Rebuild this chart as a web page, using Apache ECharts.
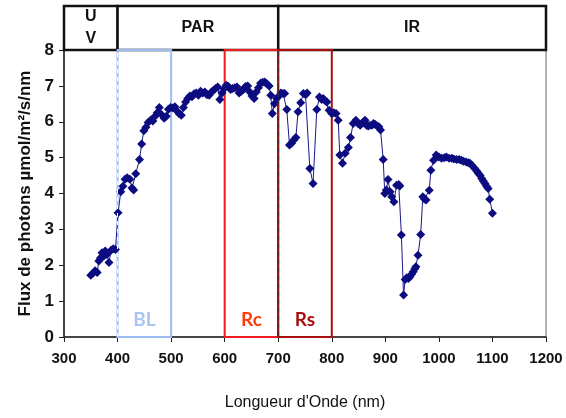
<!DOCTYPE html>
<html>
<head>
<meta charset="utf-8">
<script src="https://cdn.jsdelivr.net/npm/echarts@6/dist/echarts.min.js"></script>
<style>
  html, body { margin: 0; padding: 0; background: #fff; }
  #chart { width: 566px; height: 418px; }
</style>
</head>
<body>
<div id="chart"></div>
<script>
// longueur d'onde (nm) et flux (umol/m2/s/nm)
var wavelength = [350, 354, 358, 362, 365, 368, 371, 374, 377, 380, 384, 388, 392, 396,
  401, 406, 410, 414, 418, 423, 427, 430, 434, 441, 445, 449, 453, 457, 462, 466, 470, 474,
  478, 482, 487, 491, 495, 499, 503, 507, 511, 515, 519, 523, 527, 531, 535, 539, 543, 547,
  551, 555, 559, 563, 567, 571, 575, 579, 583, 587, 591, 595, 599, 603, 607, 611, 615, 619,
  623, 627, 631, 635, 639, 643, 647, 651, 655, 659, 663, 667, 671, 675, 679, 683, 686, 689,
  693, 697, 700, 705, 709, 712, 716, 721, 725, 729, 733, 737, 742, 747, 751, 754, 759, 765,
  772, 777, 781, 784, 788, 791, 795, 800, 804, 808, 812, 815, 820, 825, 831, 835, 840, 845,
  849, 853, 856, 859, 862, 865, 868, 871, 875, 878, 881, 885, 888, 891, 896, 899, 902, 905,
  909, 912, 916, 921, 925, 927, 930, 934, 937, 940, 943, 946, 949, 952, 955, 957, 961, 966,
  970, 973, 976, 982, 985, 990, 995, 1000, 1005, 1010, 1014, 1019, 1024, 1028, 1033, 1038,
  1042, 1046, 1051, 1055, 1058, 1062, 1067, 1071, 1074, 1077, 1080, 1083, 1086, 1089, 1092,
  1095, 1100];
var flux = [1.72, 1.78, 1.85, 1.80, 2.12, 2.20, 2.35, 2.25, 2.40, 2.30, 2.08, 2.42, 2.46, 2.44,
  3.46, 4.05, 4.20, 4.40, 4.44, 4.40, 4.15, 4.10, 4.55, 4.95, 5.38, 5.75, 5.85, 5.98, 6.05, 6.02, 6.15, 6.25,
  6.40, 6.20, 6.10, 6.15, 6.35, 6.40, 6.38, 6.42, 6.30, 6.22, 6.18, 6.40, 6.55, 6.65, 6.72, 6.70, 6.78, 6.80,
  6.74, 6.85, 6.80, 6.83, 6.75, 6.74, 6.82, 6.88, 6.93, 6.97, 6.62, 6.80, 6.92, 7.02, 6.98, 6.90, 6.93, 6.95,
  6.97, 6.80, 6.85, 6.90, 6.98, 7.00, 6.83, 6.72, 6.65, 6.83, 6.95, 7.07, 7.10, 7.11, 7.05, 7.00, 6.74, 6.23,
  6.50, 6.65, 6.70, 6.80, 6.79, 6.79, 6.34, 5.35, 5.40, 5.49, 5.56, 6.28, 6.53, 6.79, 6.75, 6.80, 4.70, 4.28,
  6.34, 6.69, 6.62, 6.65, 6.58, 6.55, 6.32, 6.23, 6.25, 6.23, 6.04, 5.07, 4.84, 5.12, 5.28, 5.56, 5.95, 6.04,
  5.95, 5.90, 5.95, 5.99, 6.04, 5.90, 5.88, 5.90, 5.90, 5.95, 5.92, 5.88, 5.86, 5.77, 4.95, 4.00, 4.10, 4.39,
  4.05, 3.91, 3.77, 4.23, 4.25, 4.21, 2.84, 1.17, 1.60, 1.65, 1.63, 1.68, 1.75, 1.82, 1.90, 1.96, 2.28, 2.86,
  3.91, 3.85, 3.82, 4.09, 4.65, 4.93, 5.07, 5.02, 4.98, 5.00, 5.02, 4.98, 4.98, 4.96, 4.95, 4.95,
  4.93, 4.90, 4.88, 4.86, 4.84, 4.78, 4.70, 4.62, 4.56, 4.50, 4.42, 4.35, 4.28, 4.20, 4.14,
  3.84, 3.45];

// bandes du bandeau du haut
var bandNames = ['U\nV', 'PAR', 'IR'];
var bandLimits = [[300, 400], [400, 700], [700, 1200]];

// zones BL / Rc / Rs
var zoneNames = ['BL', 'Rc', 'Rs'];
var zoneLimits = [[400, 500], [600, 700], [700, 800]];
var zoneColors = ['#9dbdf0', '#ee1c1c', '#a81010'];
var zoneTextColors = ['#a8c4f2', '#ff3a10', '#a81010'];

var points = [];
for (var i = 0; i < wavelength.length; i++) {
  points.push([wavelength[i], flux[i]]);
}

var bandAreas = [];
for (var b = 0; b < bandNames.length; b++) {
  bandAreas.push([
    { xAxis: bandLimits[b][0], name: bandNames[b] },
    { xAxis: bandLimits[b][1] }
  ]);
}

var zoneAreas = [];
for (var z = 0; z < zoneNames.length; z++) {
  zoneAreas.push([
    {
      xAxis: zoneLimits[z][0], yAxis: 0, name: zoneNames[z],
      itemStyle: { borderColor: zoneColors[z] },
      label: { color: zoneTextColors[z] }
    },
    { xAxis: zoneLimits[z][1], yAxis: 8 }
  ]);
}

var chart = echarts.init(document.getElementById('chart'));
var option = {
  backgroundColor: '#fff',
  animation: false,
  grid: [
    { left: 64, right: 20, top: 50, bottom: 81, show: true, borderColor: '#666', borderWidth: 1 },
    { left: 64, right: 20, top: 6, height: 44 }
  ],
  xAxis: [
    {
      type: 'value', min: 300, max: 1200, interval: 100,
      name: "Longueur d'Onde (nm)", nameLocation: 'middle', nameGap: 58,
      nameTextStyle: { fontFamily: 'Liberation Sans', fontSize: 16, color: '#111' },
      axisLine: { lineStyle: { color: '#222', width: 1.5 } },
      axisTick: { show: true, length: 5, lineStyle: { color: '#222' } },
      axisLabel: {
        fontFamily: 'Liberation Sans', fontSize: 15, fontWeight: 'bold', color: '#111', margin: 14,
        formatter: function (v) { return String(v); }
      },
      splitLine: { show: false }
    },
    { type: 'value', gridIndex: 1, min: 300, max: 1200, show: false }
  ],
  yAxis: [
    {
      type: 'value', min: 0, max: 8, interval: 1,
      name: 'Flux de photons µmol/m²/s/nm', nameLocation: 'middle', nameGap: 26,
      nameTextStyle: { fontFamily: 'Liberation Sans', fontSize: 17, fontWeight: 'bold', color: '#111' },
      axisLine: { show: true, lineStyle: { color: '#222', width: 1.5 } },
      axisTick: { show: true, length: 5, lineStyle: { color: '#222' } },
      axisLabel: { fontFamily: 'Liberation Sans', fontSize: 17, fontWeight: 'bold', color: '#111', margin: 10 },
      splitLine: { show: false }
    },
    { type: 'value', gridIndex: 1, min: 0, max: 1, show: false }
  ],
  series: [
    {
      // bandeau UV / PAR / IR
      type: 'line', xAxisIndex: 1, yAxisIndex: 1, data: [], silent: true,
      markArea: {
        silent: true,
        itemStyle: { color: '#fff', borderColor: '#111', borderWidth: 2.5 },
        label: {
          show: true, position: 'inside', fontFamily: 'Liberation Sans', fontSize: 16,
          fontWeight: 'bold', color: '#111', lineHeight: 22
        },
        data: bandAreas
      }
    },
    {
      // cadres BL / Rc / Rs
      type: 'line', data: [], silent: true, z: 1,
      markArea: {
        silent: true,
        itemStyle: { color: 'rgba(0,0,0,0)', borderWidth: 2 },
        label: {
          show: true, position: 'insideBottom', distance: 9, fontFamily: 'Lato',
          fontSize: 19, fontWeight: 'bold'
        },
        data: zoneAreas
      },
      markLine: {
        silent: true, symbol: 'none', label: { show: false },
        data: [
          [{ coord: [400, 0], lineStyle: { color: '#fff', type: [4, 4], width: 1 } }, { coord: [400, 8] }],
          [{ coord: [700, 0], lineStyle: { color: '#333', type: [5, 3], width: 1.5 } }, { coord: [700, 8] }]
        ]
      }
    },
    {
      type: 'line', data: points, z: 3,
      symbol: 'diamond', symbolSize: 9,
      lineStyle: { color: '#1a1a8a', width: 1 },
      itemStyle: { color: '#0c0c80' }
    }
  ]
};
chart.setOption(option);
</script>
</body>
</html>
